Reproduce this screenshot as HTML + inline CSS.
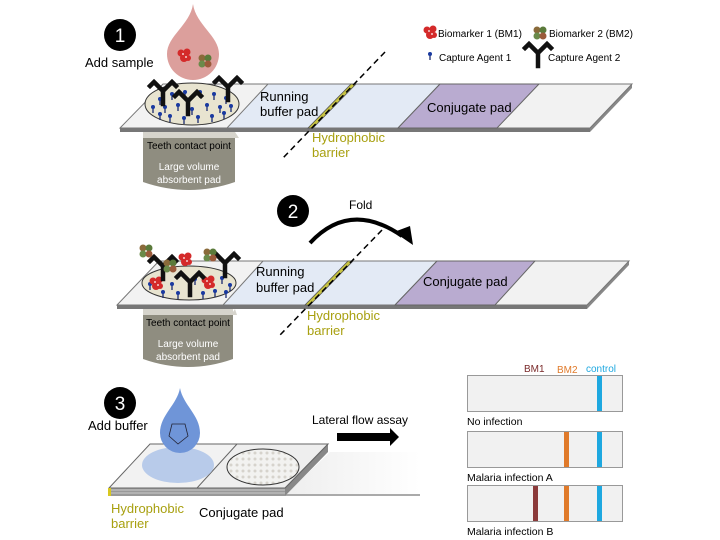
<!DOCTYPE html>
<html><head><meta charset="utf-8"><style>
html,body{margin:0;padding:0;background:#fff;}
svg{display:block;font-family:"Liberation Sans",Arial,sans-serif;}
</style></head><body>
<svg width="720" height="540" viewBox="0 0 720 540" xmlns="http://www.w3.org/2000/svg">
<defs>
<g id="ab"><path d="M0,0 L0,-13 M0,-13 L-9,-22 M0,-13 L9,-22 M-9,-22 L-13,-18 M9,-22 L13,-18" stroke="#111" stroke-width="4.5" fill="none" stroke-linecap="square"/></g>
<g id="pin"><line x1="0" y1="0" x2="0" y2="5" stroke="#1a2a6e" stroke-width="1.3"/><circle cx="0" cy="-1" r="2" fill="#1a3aa0"/></g>
<g id="bm1"><circle cx="-3" cy="-2" r="3.5" fill="#d42a2a"/><circle cx="3" cy="-3" r="3.5" fill="#d42a2a"/><circle cx="0" cy="3" r="4" fill="#d42a2a"/><circle cx="4" cy="3" r="3" fill="#d42a2a"/><circle cx="-1" cy="-1" r="0.9" fill="#fff"/><circle cx="2" cy="2" r="0.9" fill="#fff"/></g>
<g id="bm2"><circle cx="-3" cy="-3" r="3.5" fill="#8a6a3a"/><circle cx="3" cy="-3" r="3.5" fill="#5a7a3a"/><circle cx="-3" cy="3" r="3.5" fill="#6a8a4a"/><circle cx="3" cy="3" r="3.5" fill="#9a5a3a"/></g>
<pattern id="dots" width="6" height="6" patternUnits="userSpaceOnUse"><rect width="6" height="6" fill="#f2f2f0"/><circle cx="3" cy="3" r="1.5" fill="#d6d3cc"/></pattern>
<linearGradient id="fade" x1="0" x2="1"><stop offset="0" stop-color="#eeeeee"/><stop offset="1" stop-color="#fff"/></linearGradient>
</defs>

<!-- ===== PANEL 1 ===== -->
<circle cx="120" cy="35" r="16" fill="#000"/>
<text x="120" y="42" fill="#fff" font-size="19" text-anchor="middle">1</text>
<text x="85" y="67" font-size="13">Add sample</text>
<path d="M193,4 C196,25 219,36 219,54 A26,26 0 0 1 167,54 C167,36 190,25 193,4 Z" fill="#dc9f9c"/>
<use href="#bm1" x="184" y="55"/>
<use href="#bm2" x="205" y="61"/>
<path d="M143,128 L235,128 L235,182 Q189,198 143,182 Z" fill="#8f8d80"/>
<path d="M143,128 L235,128 L235,138 L143,138 Z" fill="#d6d4cc"/>
<path d="M143,138 l4,-6 l4,6 l4,-6 l4,6 l4,-6 l4,6 l4,-6 l4,6 l4,-6 l4,6 l4,-6 l4,6 l4,-6 l4,6 l4,-6 l4,6 l4,-6 l4,6 l4,-6 l4,6 l4,-6 l4,6 l4,-6 l4,6 Z" fill="#d6d4cc"/>
<text x="189" y="149" font-size="10" text-anchor="middle">Teeth contact point</text>
<text x="189" y="170" font-size="10" fill="#fff" text-anchor="middle">Large volume</text>
<text x="189" y="183" font-size="10" fill="#fff" text-anchor="middle">absorbent pad</text>
<path d="M120,128 L590,128 L590,132 L120,132 Z" fill="#777"/>
<path d="M590,128 L632,84 L632,88 L590,132 Z" fill="#888"/>
<path d="M163,84 L632,84 L590,128 L120,128 Z" fill="#f2f2f2" stroke="#777" stroke-width="1"/>
<path d="M268,84 L440,84 L398,128 L227,128 Z" fill="#e3eaf5" stroke="#777" stroke-width="1"/>
<path d="M440,84 L539,84 L497,128 L398,128 Z" fill="#b9abd0" stroke="#666" stroke-width="1"/>
<path d="M351,84 L356,84 L313,128 L308,128 Z" fill="#c8c440" stroke="#555" stroke-width="0.8"/>
<line x1="385" y1="52" x2="283" y2="158" stroke="#000" stroke-width="1.5" stroke-dasharray="6,4"/>
<ellipse cx="192" cy="104" rx="47" ry="21" fill="#e8e4d0" stroke="#333" stroke-width="1"/>
<g>
<use href="#pin" x="160" y="100"/><use href="#pin" x="172" y="95"/><use href="#pin" x="185" y="93"/><use href="#pin" x="200" y="93"/><use href="#pin" x="214" y="95"/><use href="#pin" x="226" y="99"/>
<use href="#pin" x="153" y="108"/><use href="#pin" x="165" y="108"/><use href="#pin" x="178" y="106"/><use href="#pin" x="192" y="110"/><use href="#pin" x="207" y="106"/><use href="#pin" x="220" y="108"/><use href="#pin" x="231" y="107"/>
<use href="#pin" x="170" y="117"/><use href="#pin" x="184" y="119"/><use href="#pin" x="198" y="118"/><use href="#pin" x="212" y="117"/><use href="#pin" x="224" y="114"/><use href="#pin" x="160" y="115"/>
</g>
<use href="#ab" x="163" y="104"/>
<use href="#ab" x="228" y="100"/>
<use href="#ab" x="188" y="114"/>
<text x="260" y="101" font-size="13">Running</text>
<text x="260" y="116" font-size="13">buffer pad</text>
<text x="312" y="142" font-size="13" fill="#a8a010">Hydrophobic</text>
<text x="312" y="157" font-size="13" fill="#a8a010">barrier</text>
<text x="427" y="112" font-size="13">Conjugate pad</text>

<use href="#bm1" x="430" y="32"/>
<text x="438" y="37" font-size="10">Biomarker 1 (BM1)</text>
<use href="#bm2" x="540" y="33"/>
<text x="549" y="37" font-size="10">Biomarker 2 (BM2)</text>
<use href="#pin" x="430" y="55"/>
<text x="439" y="61" font-size="10">Capture Agent 1</text>
<use href="#ab" x="538" y="66"/>
<text x="548" y="61" font-size="10">Capture Agent 2</text>

<!-- ===== PANEL 2 ===== -->
<circle cx="293" cy="211" r="16" fill="#000"/>
<text x="293" y="218" fill="#fff" font-size="19" text-anchor="middle">2</text>
<text x="349" y="209" font-size="12">Fold</text>
<path d="M310,243 Q350,200 402,236" stroke="#000" stroke-width="4" fill="none"/>
<path d="M394,232 L413,245 L410,226 Z" fill="#000"/>
<path d="M143,305 L233,305 L233,359 Q188,375 143,359 Z" fill="#8f8d80"/>
<path d="M143,305 L233,305 L233,315 L143,315 Z" fill="#d6d4cc"/>
<path d="M143,315 l4,-6 l4,6 l4,-6 l4,6 l4,-6 l4,6 l4,-6 l4,6 l4,-6 l4,6 l4,-6 l4,6 l4,-6 l4,6 l4,-6 l4,6 l4,-6 l4,6 l4,-6 l4,6 l4,-6 l4,6 l4,-6 l2,6 Z" fill="#d6d4cc"/>
<text x="188" y="326" font-size="10" text-anchor="middle">Teeth contact point</text>
<text x="188" y="347" font-size="10" fill="#fff" text-anchor="middle">Large volume</text>
<text x="188" y="360" font-size="10" fill="#fff" text-anchor="middle">absorbent pad</text>
<path d="M117,305 L587,305 L587,309 L117,309 Z" fill="#777"/>
<path d="M587,305 L629,261 L629,265 L587,309 Z" fill="#888"/>
<path d="M159,261 L629,261 L587,305 L117,305 Z" fill="#f2f2f2" stroke="#777" stroke-width="1"/>
<path d="M263,261 L437,261 L395,305 L223,305 Z" fill="#e3eaf5" stroke="#777" stroke-width="1"/>
<path d="M437,261 L535,261 L495,305 L395,305 Z" fill="#b9abd0" stroke="#666" stroke-width="1"/>
<path d="M348,261 L353,261 L310,305 L305,305 Z" fill="#c8c440" stroke="#555" stroke-width="0.8"/>
<line x1="382" y1="230" x2="280" y2="335" stroke="#000" stroke-width="1.5" stroke-dasharray="6,4"/>
<ellipse cx="189" cy="283" rx="47" ry="17" fill="#e8e4d0" stroke="#333" stroke-width="1"/>
<g>
<use href="#pin" x="150" y="285"/><use href="#pin" x="160" y="280"/><use href="#pin" x="172" y="285"/><use href="#pin" x="195" y="280"/><use href="#pin" x="210" y="283"/><use href="#pin" x="222" y="279"/><use href="#pin" x="230" y="286"/>
<use href="#pin" x="163" y="293"/><use href="#pin" x="178" y="294"/><use href="#pin" x="190" y="290"/><use href="#pin" x="203" y="294"/><use href="#pin" x="215" y="292"/><use href="#pin" x="226" y="293"/>
</g>
<use href="#bm1" x="156" y="283"/><use href="#bm1" x="208" y="282"/><use href="#bm1" x="185" y="259"/>
<use href="#ab" x="163" y="279"/><use href="#ab" x="190" y="295"/><use href="#ab" x="225" y="276"/>
<use href="#bm2" x="146" y="251"/><use href="#bm2" x="170" y="266"/><use href="#bm2" x="210" y="255"/>
<text x="256" y="276" font-size="13">Running</text>
<text x="256" y="292" font-size="13">buffer pad</text>
<text x="307" y="320" font-size="13" fill="#a8a010">Hydrophobic</text>
<text x="307" y="335" font-size="13" fill="#a8a010">barrier</text>
<text x="423" y="286" font-size="13">Conjugate pad</text>

<!-- ===== PANEL 3 ===== -->
<circle cx="120" cy="403" r="16" fill="#000"/>
<text x="120" y="410" fill="#fff" font-size="19" text-anchor="middle">3</text>
<text x="88" y="430" font-size="13">Add buffer</text>
<path d="M330,452 L420,452 L420,495 L285,495 Z" fill="url(#fade)"/>
<line x1="285" y1="495" x2="420" y2="495" stroke="#aaa" stroke-width="2"/>
<path d="M109,488 L285,488 L285,496 L109,496 Z" fill="#999"/>
<path d="M109,490 L285,490 M109,493 L285,493" stroke="#ddd" stroke-width="0.8"/>
<path d="M285,488 L328,444 L328,452 L285,496 Z" fill="#888"/>
<path d="M150,444 L328,444 L285,488 L109,488 Z" fill="#f2f2f2" stroke="#666" stroke-width="1"/>
<path d="M237,444 L328,444 L285,488 L197,488 Z" fill="#eeeeee" stroke="#666" stroke-width="1"/>
<rect x="108" y="488" width="3" height="8" fill="#d8c820"/>
<ellipse cx="178" cy="465" rx="36" ry="18" fill="#b8cbea"/>
<ellipse cx="263" cy="467" rx="36" ry="18" fill="url(#dots)" stroke="#333" stroke-width="1"/>
<path d="M180,388 C183,405 200,415 200,433 A20,20 0 0 1 160,433 C160,415 177,405 180,388 Z" fill="#6f95d8"/>
<path d="M172,424 L185,424 L188,436 L178,444 L169,436 Z" fill="none" stroke="#223" stroke-width="0.8"/>
<text x="312" y="424" font-size="12">Lateral flow assay</text>
<rect x="337" y="433" width="55" height="8" fill="#000"/>
<path d="M390,428 L399,437 L390,446 Z" fill="#000"/>
<text x="111" y="513" font-size="13" fill="#a8a010">Hydrophobic</text>
<text x="111" y="528" font-size="13" fill="#a8a010">barrier</text>
<text x="199" y="517" font-size="13">Conjugate pad</text>

<text x="524" y="372" font-size="10" fill="#7a2a2a">BM1</text>
<text x="557" y="373" font-size="10" fill="#e07a2a">BM2</text>
<text x="586" y="372" font-size="10" fill="#1ea8e0">control</text>
<rect x="467.5" y="375.5" width="155" height="36" fill="#f1f1f1" stroke="#999"/>
<rect x="597" y="376" width="5" height="35" fill="#1ea8e0"/>
<text x="467" y="425" font-size="10.5">No infection</text>
<rect x="467.5" y="431.5" width="155" height="36" fill="#f1f1f1" stroke="#999"/>
<rect x="564" y="432" width="5" height="35" fill="#e07a2a"/>
<rect x="597" y="432" width="5" height="35" fill="#1ea8e0"/>
<text x="467" y="481" font-size="10.5">Malaria infection A</text>
<rect x="467.5" y="485.5" width="155" height="36" fill="#f1f1f1" stroke="#999"/>
<rect x="533" y="486" width="5" height="35" fill="#8b3a3a"/>
<rect x="564" y="486" width="5" height="35" fill="#e07a2a"/>
<rect x="597" y="486" width="5" height="35" fill="#1ea8e0"/>
<text x="467" y="535" font-size="10.5">Malaria infection B</text>
</svg>
</body></html>
